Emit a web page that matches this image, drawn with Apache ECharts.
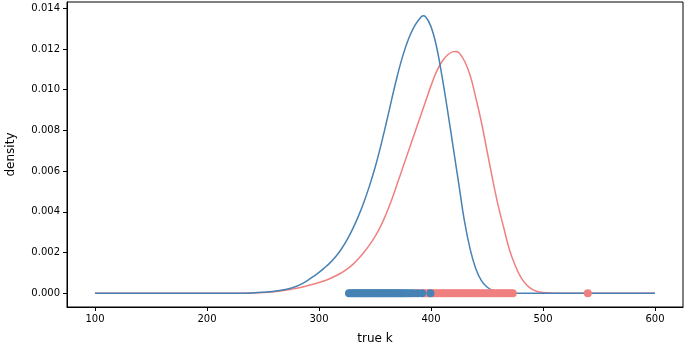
<!DOCTYPE html>
<html>
<head>
<meta charset="utf-8">
<script src="https://cdn.jsdelivr.net/npm/echarts@6/dist/echarts.min.js"></script>
<style>
  html, body { margin: 0; padding: 0; background: #fff; }
  #chart { width: 685px; height: 345px; }
</style>
</head>
<body>
<div id="chart"></div>
<script>
  // density curves
  var blueX = [100, 200, 230, 240, 250, 260, 270, 275, 280, 285, 290, 295, 300, 305, 310, 315, 320, 325, 330, 335, 340, 345, 350, 355, 360, 365, 370, 375, 380, 385, 390, 393, 395, 400, 405, 410, 415, 420, 425, 430, 435, 440, 445, 450, 455, 460, 470, 480, 500, 600]
  var blueY = [0, 0, 0, 0.00001, 0.00004, 0.00009, 0.00018, 0.00025, 0.00034, 0.00047, 0.00063, 0.00082, 0.00102, 0.00125, 0.0015, 0.0018, 0.00217, 0.00262, 0.00315, 0.00376, 0.00446, 0.00526, 0.00616, 0.0072, 0.00835, 0.00955, 0.0107, 0.0117, 0.0125, 0.0131, 0.0135, 0.01363, 0.0136, 0.0131, 0.0121, 0.0106, 0.0089, 0.0071, 0.0053, 0.0035, 0.00215, 0.0012, 0.00062, 0.0003, 0.00013, 0.00005, 0.00001, 0, 0, 0]
  var redX = [100, 200, 230, 240, 250, 260, 270, 280, 290, 300, 310, 320, 325, 330, 335, 340, 345, 350, 355, 360, 365, 370, 375, 380, 385, 390, 395, 400, 405, 410, 415, 420, 422, 425, 430, 435, 440, 445, 450, 455, 460, 465, 470, 475, 480, 485, 490, 495, 500, 510, 600]
  var redY = [0, 0, 0, 0.00001, 0.00003, 0.00007, 0.00014, 0.00024, 0.00037, 0.00052, 0.00072, 0.001, 0.00118, 0.0014, 0.00168, 0.002, 0.00236, 0.00278, 0.00328, 0.0039, 0.0046, 0.0054, 0.0062, 0.007, 0.0078, 0.0086, 0.0094, 0.0102, 0.0109, 0.0114, 0.01172, 0.01187, 0.01188, 0.01182, 0.0114, 0.0107, 0.0096, 0.0084, 0.007, 0.0056, 0.0043, 0.0032, 0.00215, 0.00138, 0.0008, 0.00043, 0.0002, 0.00008, 0.00003, 0, 0]

  // observed k values (rug at y = 0)
  var blueK = [326.8, 328.5, 330, 331.5, 333, 334.5, 336, 337.5, 339, 340.5, 342, 343.5, 345, 346.5, 348, 349.5, 351, 352.5, 354, 355.5, 357, 358.5, 360, 361.5, 363, 364.5, 366, 367.5, 369, 370.5, 372, 373.5, 375, 376.5, 378, 380, 382, 384, 388, 392, 399.5]
  var redK = [385.5, 389.5, 393, 395, 397, 399, 401, 403, 405, 407, 409, 411, 413, 415, 417, 419, 421, 423, 425, 427, 429, 431, 433, 435, 437, 439, 441, 443, 445, 447, 449, 451, 453, 455, 457, 459, 461, 463, 465, 467, 469, 471, 473, 540]

  var xTicks = [100, 200, 300, 400, 500, 600]
  var yTicks = [0, 0.002, 0.004, 0.006, 0.008, 0.010, 0.012, 0.014]

  var BLUE = '#4682b4'
  var RED = '#f08080'

  function pairs(xs, ys) {
    var out = []
    for (var i = 0; i < xs.length; i++) {
      out.push([xs[i], ys[i]])
    }
    return out
  }
  function rug(xs) {
    var out = []
    for (var i = 0; i < xs.length; i++) {
      out.push([xs[i], 0])
    }
    return out
  }

  var chart = echarts.init(document.getElementById('chart'), null, {renderer: 'canvas'})
  var font = 'DejaVu Sans'

  chart.setOption({
    animation: false,
    textStyle: {fontFamily: font},
    grid: {
      left: 67,
      right: 2,
      top: 2,
      bottom: 38,
      outerBoundsMode: 'none',
      containLabel: false,
      show: true,
      borderColor: '#000',
      borderWidth: 1
    },
    xAxis: {
      type: 'value',
      min: 75,
      max: 625,
      name: 'true k',
      nameLocation: 'middle',
      nameGap: 26,
      nameTextStyle: {fontSize: 12, color: '#000', fontFamily: font},
      axisLine: {show: true, onZero: false, lineStyle: {color: '#000', width: 1}},
      axisTick: {show: true, length: 4, customValues: xTicks, lineStyle: {color: '#000'}},
      axisLabel: {customValues: xTicks, fontSize: 10, color: '#000', margin: 7, fontFamily: font},
      splitLine: {show: false}
    },
    yAxis: {
      type: 'value',
      min: -0.00068,
      max: 0.01431,
      name: 'density',
      nameLocation: 'middle',
      nameGap: 50,
      nameRotate: 90,
      nameTextStyle: {fontSize: 12, color: '#000', fontFamily: font},
      axisLine: {show: true, onZero: false, lineStyle: {color: '#000', width: 1}},
      axisTick: {show: true, length: 4, customValues: yTicks, lineStyle: {color: '#000'}},
      axisLabel: {
        customValues: yTicks,
        fontSize: 10,
        color: '#000',
        margin: 7,
        fontFamily: font,
        formatter: function (v) { return v.toFixed(3) }
      },
      splitLine: {show: false}
    },
    series: [
      {
        type: 'line',
        data: pairs(redX, redY),
        smooth: 0.4,
        showSymbol: false,
        lineStyle: {color: RED, width: 1.5},
        z: 2
      },
      {
        type: 'line',
        data: pairs(blueX, blueY),
        smooth: 0.4,
        showSymbol: false,
        lineStyle: {color: BLUE, width: 1.5},
        z: 3
      },
      {
        type: 'scatter',
        data: rug(redK),
        symbolSize: 8,
        itemStyle: {color: RED, opacity: 1},
        z: 4
      },
      {
        type: 'scatter',
        data: rug(blueK),
        symbolSize: 8,
        itemStyle: {color: BLUE, opacity: 1},
        z: 5
      }
    ]
  })
</script>
</body>
</html>
